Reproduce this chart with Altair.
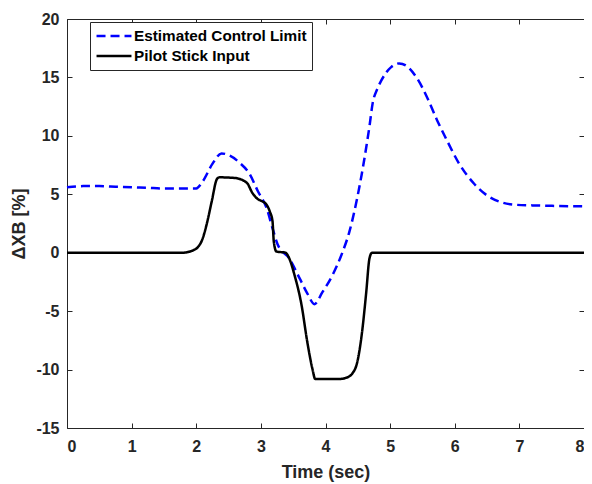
import altair as alt
import pandas as pd

# ---- data ----
series_names = ["Estimated Control Limit", "Pilot Stick Input"]

t_limit = [0.0, 0.25, 0.5, 0.75, 1.0, 1.25, 1.5, 1.75, 2.0, 2.10, 2.25, 2.39,
           2.52, 2.67, 2.83, 2.95, 3.09, 3.18, 3.26, 3.44, 3.60, 3.72, 3.83, 3.95,
           4.11, 4.26, 4.37, 4.48, 4.56, 4.63, 4.68, 4.73, 4.80, 4.86, 5.02, 5.14,
           5.25, 5.42, 5.58, 5.73, 5.88, 6.07, 6.30, 6.50, 6.73, 6.95, 7.20, 7.60, 8.0]
v_limit = [5.6, 5.7, 5.7, 5.65, 5.6, 5.55, 5.5, 5.5, 5.5, 6.1, 7.6, 8.5,
           8.3, 7.7, 6.7, 5.3, 3.8, 2.1, 0.7, -0.5, -2.2, -3.5, -4.4, -3.4,
           -1.9, 0.0, 1.8, 4.4, 6.7, 9.0, 10.8, 12.8, 14.0, 14.7, 15.9, 16.2,
           16.0, 14.9, 13.2, 11.3, 9.6, 7.6, 5.9, 4.9, 4.3, 4.1, 4.05, 4.0, 3.97]

t_stick = [0.0, 1.78, 1.95, 2.08, 2.16, 2.24, 2.32, 2.36, 2.59, 2.78, 2.87, 2.95,
           3.02, 3.09, 3.14, 3.18, 3.20, 3.24, 3.38, 3.44, 3.52, 3.63, 3.72, 3.80,
           3.84, 4.22, 4.32, 4.42, 4.49, 4.57, 4.63, 4.68, 4.72, 8.0]
v_stick = [0.0, 0.0, 0.2, 0.95, 2.4, 4.4, 6.3, 6.45, 6.4, 6.0, 5.1, 4.6,
           4.4, 4.1, 3.5, 2.7, 0.95, 0.1, 0.0, -0.5, -1.9, -4.5, -7.7, -10.0,
           -10.8, -10.8, -10.7, -10.3, -9.4, -6.6, -3.4, -0.5, 0.0, 0.0]

x_ticks = [0, 1, 2, 3, 4, 5, 6, 7, 8]
y_ticks = [-15, -10, -5, 0, 5, 10, 15, 20]

df = pd.concat([
    pd.DataFrame({"t": t_limit, "v": v_limit, "series": series_names[0], "order": range(len(t_limit))}),
    pd.DataFrame({"t": t_stick, "v": v_stick, "series": series_names[1], "order": range(len(t_stick))}),
], ignore_index=True)

W, H = 517, 409
FONT = "Liberation Sans"
INK = "#262626"

xscale = alt.Scale(domain=[0, 8], nice=False, zero=False)
yscale = alt.Scale(domain=[-15, 20], nice=False, zero=False)

main = alt.Chart(df).mark_line(strokeWidth=2.5, interpolate="monotone").encode(
    x=alt.X("t:Q", scale=xscale, axis=alt.Axis(
        orient="bottom", values=x_ticks, title="Time (sec)", grid=False, ticks=False,
        domain=False, labelPadding=10, titlePadding=9, labelExpr="'' + datum.value")),
    y=alt.Y("v:Q", scale=yscale, axis=alt.Axis(
        orient="left", values=y_ticks, title="\u0394XB [%]", grid=False, ticks=False,
        domain=False, labelPadding=8, titlePadding=7, labelExpr="'' + datum.value")),
    color=alt.Color("series:N", scale=alt.Scale(domain=series_names, range=["#0000ff", "#000000"]),
                    legend=alt.Legend(title=None)),
    strokeDash=alt.StrokeDash("series:N", scale=alt.Scale(domain=series_names, range=[[9, 5], [1, 0]]),
                              legend=alt.Legend(title=None)),
    detail="series:N",
    order="order:Q",
)

tick_axis = dict(labels=False, title=None, grid=False, domain=False, ticks=True, tickSize=5)

ticks_bl = alt.Chart(df).mark_line(opacity=0).encode(
    x=alt.X("t:Q", scale=xscale, axis=alt.Axis(orient="top", offset=-H, values=x_ticks, **tick_axis)),
    y=alt.Y("v:Q", scale=yscale, axis=alt.Axis(orient="right", offset=-W, values=y_ticks, **tick_axis)),
    detail="series:N",
)
ticks_tr = alt.Chart(df).mark_line(opacity=0).encode(
    x=alt.X("t:Q", scale=xscale, axis=alt.Axis(orient="bottom", offset=-H, values=x_ticks, **tick_axis)),
    y=alt.Y("v:Q", scale=yscale, axis=alt.Axis(orient="left", offset=-W, values=y_ticks, **tick_axis)),
    detail="series:N",
)

chart = alt.layer(main, ticks_bl, ticks_tr).resolve_axis(
    x="independent", y="independent"
).properties(
    width=W, height=H,
    autosize=alt.AutoSizeParams(type="none"),
    padding={"left": 59, "top": 11, "right": 0, "bottom": 56},
).configure_view(
    stroke=INK, strokeWidth=1
).configure_axis(
    labelFont=FONT, labelFontSize=16, labelFontWeight="bold", labelColor=INK,
    titleFont=FONT, titleFontSize=18, titleFontWeight="bold", titleColor=INK,
    tickColor=INK, tickWidth=1,
).configure_legend(
    orient="none", legendX=23, legendY=3,
    strokeColor=INK, fillColor="white", padding=5,
    labelFont=FONT, labelFontSize=15.3, labelFontWeight="bold", labelColor="#000000",
    labelLimit=400,
    symbolType="M-2.33,0H2.33", symbolSize=225, symbolStrokeWidth=2.5,
    symbolOffset=10, labelOffset=11, rowPadding=2, cornerRadius=0,
)

chart.save("out.html", embed_options={"renderer": "svg", "actions": False})
